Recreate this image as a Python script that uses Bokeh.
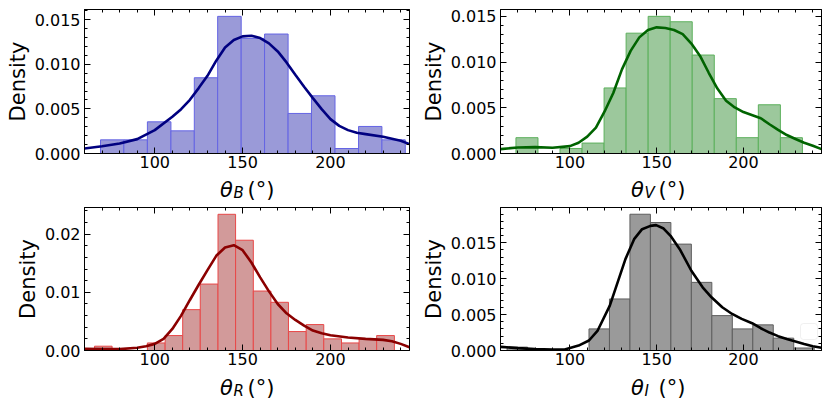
import numpy as np
from bokeh.plotting import figure
from bokeh.models import Range1d, LinearAxis, FixedTicker, Label, BoxAnnotation
from bokeh.layouts import column, row
from bokeh.embed import file_html
from bokeh.resources import INLINE

# ---------------- data ----------------
x_lim = (60, 245)
x_major = [100, 150, 200]
x_minor = [60, 70, 80, 90, 110, 120, 130, 140, 160, 170, 180, 190, 210, 220, 230, 240]

# theta_B
b_edges = [69.1, 82.4, 95.8, 109.2, 122.5, 135.8, 149.2, 162.5, 175.9, 189.2, 202.6, 216.0, 229.3, 242.6]
b_density = [0.00153, 0.00153, 0.00355, 0.00254, 0.00849, 0.01537, 0.01290, 0.01339, 0.00449,
             0.00647, 0.00056, 0.00303, 0.00153]
b_kde_x = [60, 70, 80, 90, 100, 110, 115, 120, 125, 130, 135, 140, 145, 150, 155, 160, 165, 170,
           175, 180, 185, 190, 195, 200, 205, 210, 215, 220, 230, 240, 245]
b_kde_y = [0.00056, 0.00082, 0.00112, 0.00161, 0.00262, 0.00411, 0.00497, 0.00602, 0.00733,
           0.00871, 0.01040, 0.01189, 0.01272, 0.01313, 0.01320, 0.01294, 0.01234, 0.01144,
           0.01021, 0.00883, 0.00748, 0.00621, 0.00497, 0.00385, 0.00310, 0.00262, 0.00232,
           0.00217, 0.00187, 0.00142, 0.00105]

# theta_V
v_edges = [68.9, 81.6, 94.3, 107.0, 119.7, 132.4, 145.1, 157.8, 170.5, 183.2, 195.9, 208.6, 221.3, 234.0]
v_density = [0.00173, 0.0, 0.00055, 0.00114, 0.00717, 0.01316, 0.01500, 0.01441, 0.01077,
             0.00600, 0.00173, 0.00533, 0.00173]
v_kde_x = [60, 70, 80, 90, 100, 105, 110, 115, 120, 125, 130, 135, 140, 145, 150, 155, 160, 165,
           170, 175, 180, 185, 190, 195, 200, 210, 215, 220, 225, 230, 235, 240, 245]
v_kde_y = [0.00048, 0.00066, 0.00070, 0.00063, 0.00081, 0.00118, 0.00184, 0.00283, 0.00460,
           0.00662, 0.00920, 0.01122, 0.01270, 0.01351, 0.01380, 0.01373, 0.01351, 0.01306,
           0.01203, 0.01067, 0.00883, 0.00710, 0.00578, 0.00504, 0.00453, 0.00386, 0.00320,
           0.00258, 0.00202, 0.00158, 0.00118, 0.00085, 0.00048]

# theta_R
r_edges = [65.7, 75.7, 85.8, 95.8, 105.9, 115.9, 125.9, 136.0, 146.0, 156.1, 166.1, 176.1, 186.2,
           196.2, 206.3, 216.3, 226.3, 236.4]
r_density = [0.00074, 0.0, 0.0, 0.00130, 0.00257, 0.00703, 0.01143, 0.02343, 0.01897, 0.01023,
             0.00829, 0.00326, 0.00446, 0.00200, 0.00130, 0.00200, 0.00257]
r_kde_x = [60, 70, 80, 90, 95, 100, 105, 110, 115, 120, 125, 130, 135, 140, 145, 150, 155, 160,
           165, 170, 175, 180, 185, 190, 195, 200, 210, 220, 230, 235, 240, 245]
r_kde_y = [0.00029, 0.00023, 0.00023, 0.00046, 0.00074, 0.00114, 0.00200, 0.00371, 0.00600,
           0.00869, 0.01131, 0.01383, 0.01629, 0.01771, 0.01811, 0.01726, 0.01514, 0.01257,
           0.01017, 0.00800, 0.00640, 0.00526, 0.00429, 0.00343, 0.00297, 0.00263, 0.00223,
           0.00200, 0.00183, 0.00160, 0.00114, 0.00057]

# theta_I
i_edges = [63.8, 75.6, 87.4, 99.2, 111.0, 122.8, 134.6, 146.4, 158.2, 170.0, 181.8, 193.6, 205.4,
           217.2, 229.0, 240.8]
i_density = [0.00047, 0.0, 0.0, 0.0, 0.00301, 0.00718, 0.01898, 0.01783, 0.01482, 0.00949,
             0.00486, 0.00301, 0.00357, 0.00172, 0.00035]
i_kde_x = [60, 70, 80, 90, 97, 105, 111, 116, 123, 127.5, 132, 137, 141.6, 146.4, 149.7, 154, 158,
           163.3, 170, 176.5, 181.6, 187.8, 193.5, 199, 205, 210, 215, 220, 225, 230, 235, 240, 245]
i_kde_y = [0.00051, 0.00033, 0.00019, 0.00012, 0.00014, 0.00069, 0.00139, 0.00278, 0.00625,
           0.00949, 0.01273, 0.01551, 0.01690, 0.01736, 0.01746, 0.01699, 0.01597, 0.01412,
           0.01111, 0.00880, 0.00741, 0.00602, 0.00509, 0.00440, 0.00380, 0.00310, 0.00250,
           0.00200, 0.00160, 0.00125, 0.00090, 0.00060, 0.00037]

y_ticks_small = [0.000, 0.005, 0.010, 0.015]
y_labels_small = ["0.000", "0.005", "0.010", "0.015"]
y_ticks_big = [0.00, 0.01, 0.02]
y_labels_big = ["0.00", "0.01", "0.02"]
minor_small = [0.001, 0.002, 0.003, 0.004, 0.006, 0.007, 0.008, 0.009, 0.011, 0.012,
               0.013, 0.014, 0.016, 0.017, 0.018, 0.019]
minor_big = [0.002, 0.004, 0.006, 0.008, 0.012, 0.014, 0.016, 0.018, 0.022, 0.024]

FONT = "DejaVu Sans"


def style_axis(ax, ticks, minor, labels=None, standoff=4, show_labels=True):
    ax.ticker = FixedTicker(ticks=ticks, minor_ticks=minor)
    ax.major_tick_in = 6
    ax.major_tick_out = 0
    ax.minor_tick_in = 3
    ax.minor_tick_out = 0
    ax.axis_line_color = "black"
    ax.axis_line_width = 1
    ax.major_tick_line_color = "black"
    ax.minor_tick_line_color = "black"
    ax.major_label_text_font = FONT
    ax.major_label_text_color = "black"
    ax.major_label_standoff = standoff
    if labels is not None:
        ax.major_label_overrides = {t: l for t, l in zip(ticks, labels)}
    if show_labels:
        ax.major_label_text_font_size = "16px"
    else:
        ax.major_label_text_font_size = "0px"
        ax.major_label_standoff = 0
        ax.major_label_overrides = {t: "" for t in ticks}


def make_panel(edges, dens, kx, ky, ymax, yticks, ylabels, yminor, fill, edge, line,
               width, height, left, right, top, bottom):
    p = figure(width=width, height=height, x_range=Range1d(*x_lim), y_range=Range1d(0, ymax),
               output_backend="svg", toolbar_location=None,
               min_border_left=left, min_border_right=right, min_border_top=top,
               min_border_bottom=bottom)
    p.grid.visible = False
    p.outline_line_color = "black"
    p.outline_line_width = 1
    p.background_fill_color = "white"
    p.border_fill_color = "white"

    p.quad(left=edges[:-1], right=edges[1:], bottom=0, top=dens,
           fill_color=fill, line_color=edge, line_width=1)
    p.line(kx, ky, line_color=line, line_width=2.6)

    style_axis(p.xaxis[0], x_major, x_minor, standoff=2)
    style_axis(p.yaxis[0], yticks, yminor, ylabels, standoff=4)
    p.yaxis[0].axis_label = "Density"
    p.yaxis[0].axis_label_text_font = FONT
    p.yaxis[0].axis_label_text_font_size = "21px"
    p.yaxis[0].axis_label_text_font_style = "normal"
    p.yaxis[0].axis_label_text_color = "black"
    p.yaxis[0].axis_label_standoff = 2

    top_ax = LinearAxis()
    right_ax = LinearAxis()
    style_axis(top_ax, x_major, x_minor, show_labels=False)
    style_axis(right_ax, yticks, yminor, show_labels=False)
    p.add_layout(top_ax, "above")
    p.add_layout(right_ax, "right")
    return p


def make_xlabel(sub, width, height, left, frame_w, base_y):
    s = figure(width=width, height=height, x_range=Range1d(0, width), y_range=Range1d(0, height),
               output_backend="svg", toolbar_location=None, min_border=0,
               x_axis_type=None, y_axis_type=None)
    s.grid.visible = False
    s.outline_line_color = None
    s.background_fill_color = "white"
    s.border_fill_color = "white"
    cx = left + frame_w / 2
    s.add_layout(Label(x=cx - 27, y=base_y, x_units="screen", y_units="screen", text="θ",
                       text_font=FONT, text_font_style="italic", text_font_size="21px",
                       text_align="left", text_baseline="alphabetic", text_color="black"))
    s.add_layout(Label(x=cx - 13.5, y=base_y - 3, x_units="screen", y_units="screen", text=sub,
                       text_font=FONT, text_font_style="italic", text_font_size="15px",
                       text_align="left", text_baseline="alphabetic", text_color="black"))
    s.add_layout(Label(x=cx + 0.5, y=base_y, x_units="screen", y_units="screen", text="(°)",
                       text_font=FONT, text_font_size="21px",
                       text_align="left", text_baseline="alphabetic", text_color="black"))
    return s


# left column: 84 + 325 + 9 = 418 ; right column: 76 + 327 + 9 = 412
p1 = make_panel(b_edges, b_density, b_kde_x, b_kde_y, 0.01614, y_ticks_small, y_labels_small,
                minor_small, "#9a9ad8", "#6464e4", "#000080", 418, 177, 84, 9, 9, 24)
p2 = make_panel(v_edges, v_density, v_kde_x, v_kde_y, 0.01575, y_ticks_small, y_labels_small,
                minor_small, "#9cc89c", "#5cb05c", "#006400", 412, 177, 76, 9, 9, 24)
p3 = make_panel(r_edges, r_density, r_kde_x, r_kde_y, 0.0246, y_ticks_big, y_labels_big,
                minor_big, "#d29a9a", "#e84848", "#8b0000", 418, 174, 84, 9, 7, 24)
p4 = make_panel(i_edges, i_density, i_kde_x, i_kde_y, 0.01992, y_ticks_small, y_labels_small,
                minor_small, "#9a9a9a", "#5e5e5e", "#000000", 412, 174, 76, 9, 7, 24)

# empty legend frame in the last panel
p4.add_layout(BoxAnnotation(left=300, right=317, bottom=11, top=27,
                            left_units="screen", right_units="screen",
                            bottom_units="screen", top_units="screen",
                            fill_color="white", fill_alpha=0.8,
                            line_color="#cccccc", line_width=1, border_radius=3))

s1 = make_xlabel("B", 418, 23, 84, 325, 11)
s2 = make_xlabel("V", 412, 23, 76, 327, 11)
s3 = make_xlabel("R", 418, 30, 84, 325, 17)
s4 = make_xlabel("I", 412, 30, 76, 327, 17)

layout = column(row(p1, p2), row(s1, s2), row(p3, p4), row(s3, s4))

with open("out.html", "w") as f:
    f.write(file_html(layout, INLINE))
